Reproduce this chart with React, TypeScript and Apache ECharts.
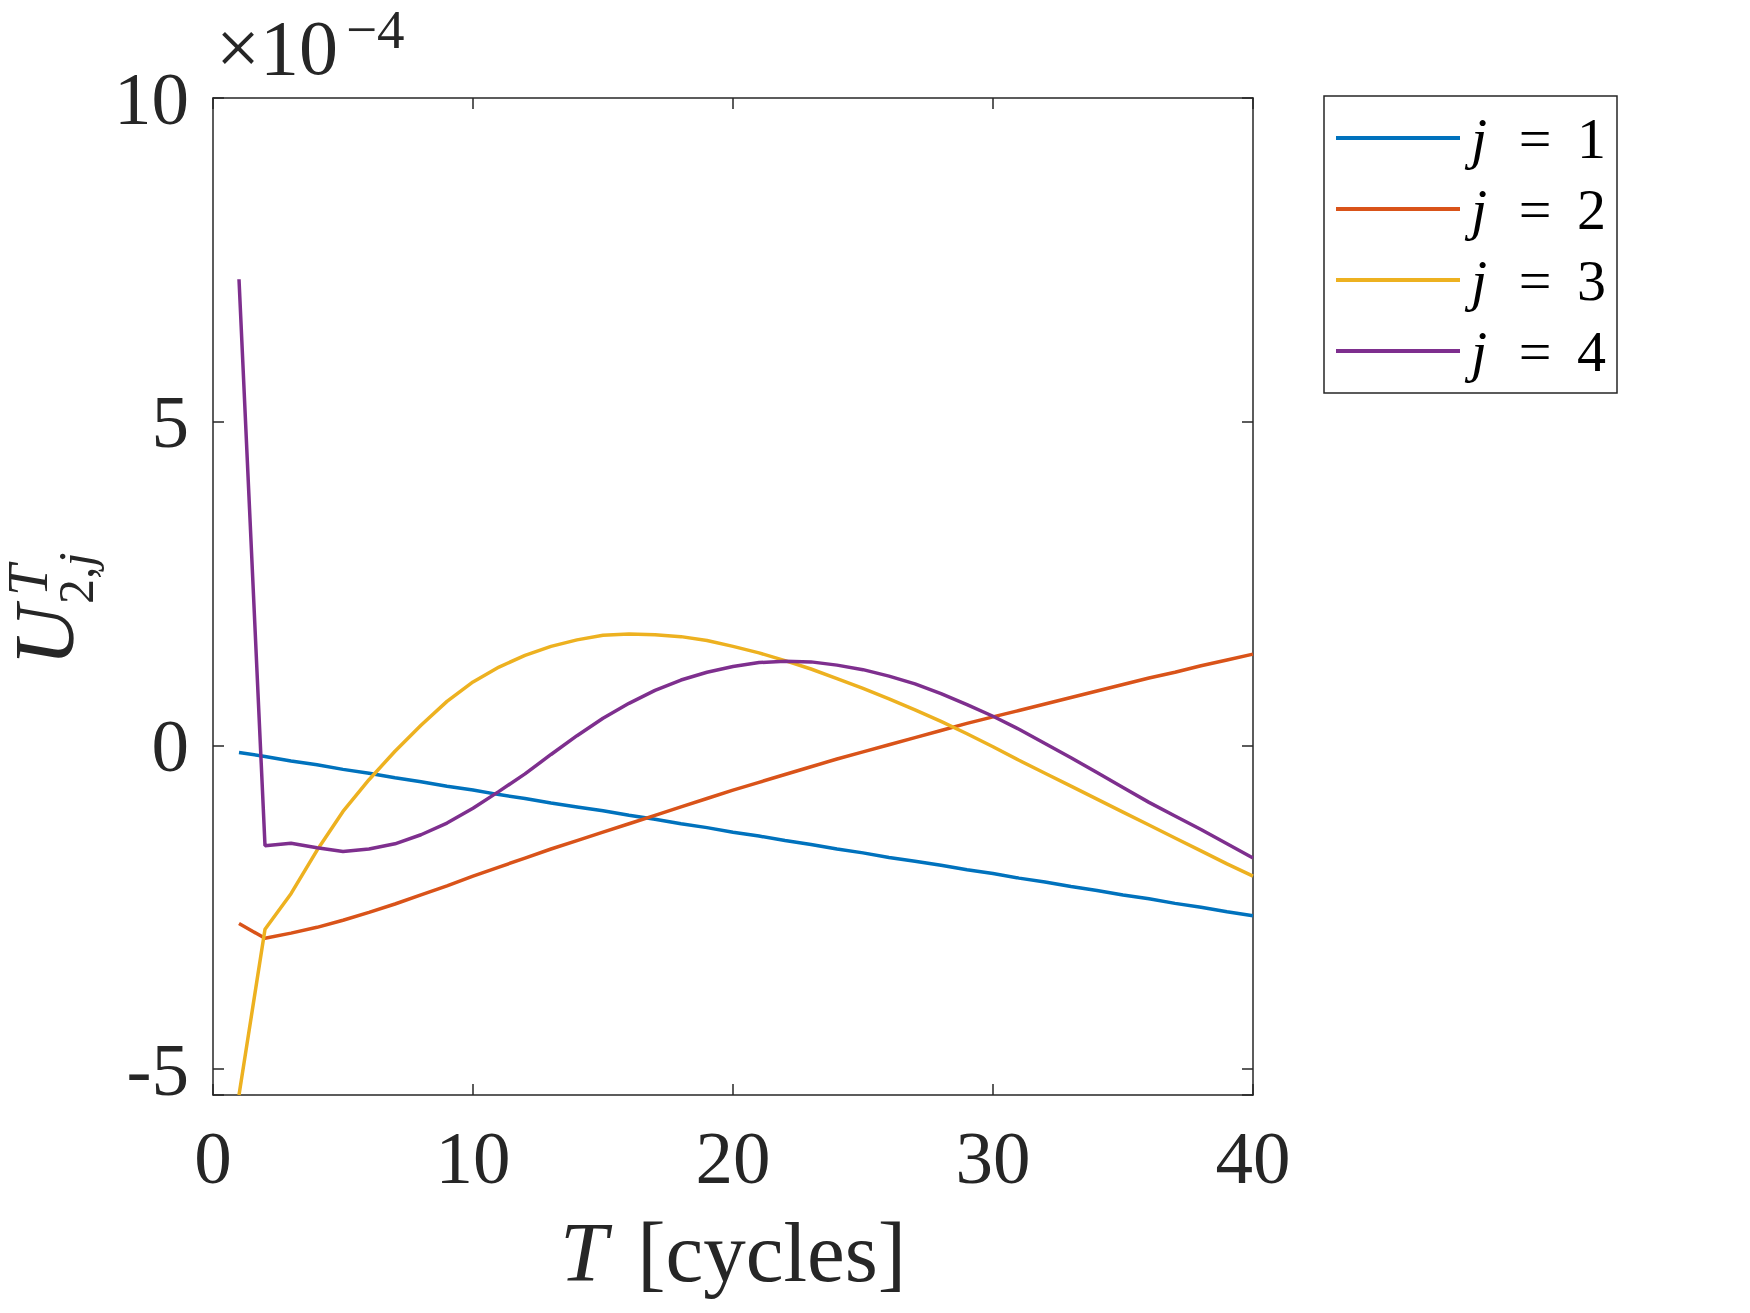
import React, { useEffect, useRef } from 'react';
import * as echarts from 'echarts';

// T [cycles]
const cycles = [1, 2, 3, 4, 5, 6, 7, 8, 9, 10, 11, 12, 13, 14, 15, 16, 17, 18, 19, 20,
  21, 22, 23, 24, 25, 26, 27, 28, 29, 30, 31, 32, 33, 34, 35, 36, 37, 38, 39, 40];

// values in units of 1e-4
const uJ1 = [-0.11, -0.17, -0.24, -0.30, -0.37, -0.43, -0.50, -0.56, -0.63, -0.69,
  -0.76, -0.82, -0.89, -0.95, -1.01, -1.08, -1.14, -1.21, -1.27, -1.34,
  -1.40, -1.47, -1.53, -1.60, -1.66, -1.73, -1.79, -1.85, -1.92, -1.98,
  -2.05, -2.11, -2.18, -2.24, -2.31, -2.37, -2.44, -2.50, -2.57, -2.63];

const uJ2 = [-2.75, -2.98, -2.90, -2.81, -2.70, -2.58, -2.45, -2.31, -2.17, -2.02,
  -1.88, -1.74, -1.60, -1.47, -1.34, -1.21, -1.08, -0.95, -0.82, -0.69,
  -0.57, -0.45, -0.33, -0.21, -0.10, 0.01, 0.12, 0.23, 0.34, 0.44,
  0.54, 0.64, 0.74, 0.84, 0.94, 1.04, 1.13, 1.23, 1.32, 1.41];

const uJ3 = [-5.40, -2.84, -2.29, -1.62, -1.02, -0.53, -0.09, 0.31, 0.68, 0.98,
  1.21, 1.39, 1.53, 1.63, 1.70, 1.72, 1.71, 1.68, 1.62, 1.53,
  1.43, 1.31, 1.18, 1.03, 0.88, 0.72, 0.55, 0.37, 0.18, -0.02,
  -0.23, -0.43, -0.63, -0.83, -1.03, -1.23, -1.43, -1.63, -1.83, -2.02];

const uJ4 = [7.20, -1.55, -1.51, -1.58, -1.64, -1.60, -1.52, -1.38, -1.20, -0.97,
  -0.71, -0.44, -0.14, 0.15, 0.42, 0.65, 0.85, 1.01, 1.13, 1.22,
  1.28, 1.30, 1.29, 1.24, 1.17, 1.07, 0.95, 0.80, 0.63, 0.45,
  0.25, 0.03, -0.19, -0.42, -0.65, -0.88, -1.09, -1.30, -1.52, -1.74];

const seriesValues = [uJ1, uJ2, uJ3, uJ4];
const seriesNames = ['j = 1', 'j = 2', 'j = 3', 'j = 4'];
const seriesColors = ['#0072BD', '#D95319', '#EDB120', '#7E2F8E'];

const xMin = 0;
const xMax = 40;
const xStep = 10;
const yMin = -5.4;
const yMax = 10;
const yStep = 5;

export default function App() {
  const ref = useRef<HTMLDivElement>(null);

  useEffect(() => {
    if (!ref.current) return;
    const chart = echarts.init(ref.current, null, { renderer: 'svg' });
    const serif = 'Liberation Serif';
    const axisColor = '#262626';
    const isMajor = (v: number) => Math.abs(v / yStep - Math.round(v / yStep)) < 1e-6;

    const axisLine = { show: true, onZero: false, lineStyle: { color: axisColor, width: 1.5 } };
    const axisTick = { show: true, inside: true, length: 11, lineStyle: { color: axisColor, width: 1.5 } };

    const series = seriesValues.map((vals, i) => ({
      name: seriesNames[i],
      type: 'line',
      xAxisIndex: 0,
      yAxisIndex: 0,
      data: cycles.map((t, k) => [t, vals[k]]),
      symbol: 'none',
      showSymbol: false,
      clip: true,
      lineStyle: { width: 3.5, color: seriesColors[i] },
      itemStyle: { color: seriesColors[i] },
      z: 2 + i,
    }));

    const option: any = {
      animation: false,
      backgroundColor: '#ffffff',
      grid: {
        left: 213,
        top: 98,
        width: 1040,
        height: 997,
        containLabel: false,
        outerBoundsMode: 'none',
      },
      xAxis: [
        {
          type: 'value',
          position: 'bottom',
          min: xMin,
          max: xMax,
          interval: xStep,
          axisLine,
          axisTick,
          splitLine: { show: false },
          axisLabel: { fontSize: 75, fontFamily: serif, color: axisColor, margin: 25 },
          name: '{i|T}{s| }{r|[cycles]}',
          nameLocation: 'middle',
          nameGap: 114,
          nameTextStyle: {
            fontSize: 85,
            fontFamily: serif,
            color: axisColor,
            rich: {
              i: { fontSize: 85, fontFamily: serif, fontStyle: 'italic', color: axisColor, lineHeight: 85 },
              s: { fontSize: 85, fontFamily: serif, color: axisColor, width: 30, lineHeight: 85 },
              r: { fontSize: 85, fontFamily: serif, color: axisColor, lineHeight: 85 },
            },
          },
        },
        {
          type: 'value',
          position: 'top',
          min: xMin,
          max: xMax,
          interval: xStep,
          axisLine,
          axisTick,
          splitLine: { show: false },
          axisLabel: { show: false },
        },
      ],
      yAxis: [
        {
          type: 'value',
          position: 'left',
          min: yMin,
          max: yMax,
          splitNumber: 3,
          axisLine,
          axisTick,
          splitLine: { show: false },
          axisLabel: {
            fontSize: 75,
            fontFamily: serif,
            color: axisColor,
            margin: 24,
            formatter: (v: number) => (isMajor(v) ? String(Math.round(v)) : ''),
          },
        },
        {
          type: 'value',
          position: 'right',
          min: yMin,
          max: yMax,
          splitNumber: 3,
          axisLine,
          axisTick,
          splitLine: { show: false },
          axisLabel: { show: false },
        },
      ],
      legend: {
        show: true,
        orient: 'vertical',
        left: 1324,
        top: 96,
        align: 'left',
        padding: [13, 11, 13, 12],
        itemGap: 13,
        itemWidth: 124,
        itemHeight: 4,
        icon: 'rect',
        borderColor: axisColor,
        borderWidth: 1.5,
        backgroundColor: '#ffffff',
        data: seriesNames,
        formatter: (name: string) => `{j|j}{e|=}{n|${name.split('= ')[1]}}`,
        textStyle: {
          fontSize: 58,
          fontFamily: serif,
          color: '#000000',
          lineHeight: 55,
          rich: {
            j: { fontSize: 58, fontFamily: serif, fontStyle: 'italic', color: '#000000', width: 28, align: 'center', lineHeight: 55 },
            e: { fontSize: 58, fontFamily: serif, color: '#000000', width: 84, align: 'center', lineHeight: 55 },
            n: { fontSize: 58, fontFamily: serif, color: '#000000', lineHeight: 55 },
          },
        },
      },
      graphic: [
        {
          type: 'text',
          x: 216,
          y: 47,
          style: {
            text: '×10',
            fontSize: 78,
            fontFamily: serif,
            lineHeight: 60,
            fill: axisColor,
            align: 'left',
            verticalAlign: 'middle',
          },
        },
        {
          type: 'text',
          x: 346,
          y: 29,
          style: {
            text: '−4',
            fontSize: 55,
            fontFamily: serif,
            lineHeight: 40,
            fill: axisColor,
            align: 'left',
            verticalAlign: 'middle',
          },
        },
        {
          type: 'group',
          x: 72,
          y: 666,
          rotation: Math.PI / 2,
          children: [
            {
              type: 'text',
              x: 0,
              y: -28,
              style: {
                text: 'U',
                fontSize: 84,
                fontFamily: serif,
                fontStyle: 'italic',
                lineHeight: 60,
                fill: axisColor,
                align: 'left',
                verticalAlign: 'middle',
              },
            },
            {
              type: 'text',
              x: 70,
              y: -44,
              style: {
                text: 'T',
                fontSize: 56,
                fontFamily: serif,
                fontStyle: 'italic',
                lineHeight: 40,
                fill: axisColor,
                align: 'left',
                verticalAlign: 'middle',
              },
            },
            {
              type: 'text',
              x: 62,
              y: 4,
              style: {
                text: '{a|2,}{b|j}',
                fill: axisColor,
                align: 'left',
                verticalAlign: 'middle',
                rich: {
                  a: { fontSize: 50, fontFamily: serif, fill: axisColor, lineHeight: 40 },
                  b: { fontSize: 50, fontFamily: serif, fontStyle: 'italic', fill: axisColor, lineHeight: 40 },
                },
              },
            },
          ],
        },
      ],
      series,
    };

    chart.setOption(option);
    return () => {
      chart.dispose();
    };
  }, []);

  return (
    <div
      ref={ref}
      style={{ position: 'fixed', left: 0, top: 0, width: 1750, height: 1313, background: '#ffffff' }}
    />
  );
}
